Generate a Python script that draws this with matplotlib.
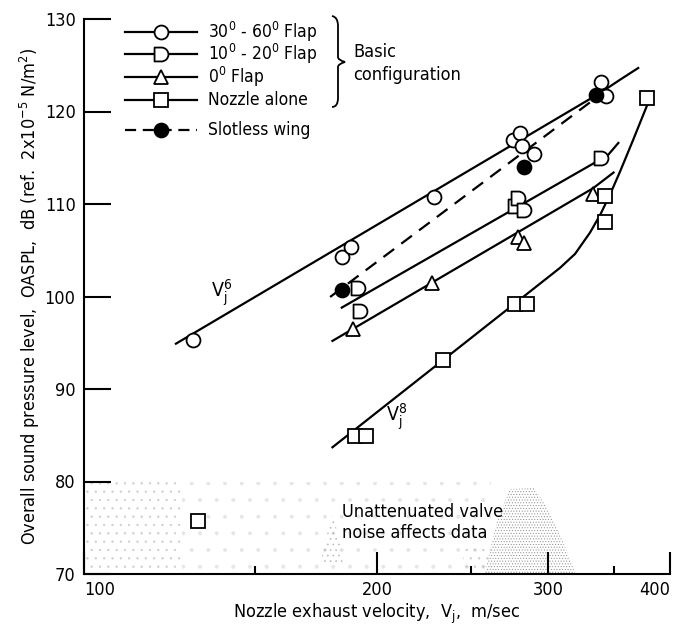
import numpy as np
import matplotlib.pyplot as plt
from matplotlib.path import Path
from matplotlib.patches import PathPatch
from matplotlib.lines import Line2D
from matplotlib.ticker import FixedLocator, FixedFormatter, NullFormatter

plt.rcParams['font.family'] = ['DejaVu Sans']
plt.rcParams['font.stretch'] = 'condensed'
plt.rcParams['mathtext.fontset'] = 'custom'
plt.rcParams['mathtext.rm'] = 'DejaVu Sans:stretch=condensed'
plt.rcParams['mathtext.it'] = 'DejaVu Sans:stretch=condensed'
plt.rcParams['font.size'] = 13
plt.rcParams['hatch.linewidth'] = 0.4

# measured points: nozzle exhaust velocity (m/sec) and OASPL (dB)
flap_30_60_v = [129.4, 184, 188, 229, 276, 280.5, 282, 290, 340, 344]
flap_30_60_db = [95.3, 104.3, 105.4, 110.8, 116.9, 117.7, 116.3, 115.4, 123.2, 121.7]

flap_10_20_v = [191, 192, 277, 279, 283, 340]
flap_10_20_db = [100.9, 98.4, 109.8, 110.6, 109.4, 115.0]

flap_0_v = [189, 228, 279, 283, 333]
flap_0_db = [96.5, 101.5, 106.4, 105.8, 111.1]

nozzle_v = [131, 190, 195, 234, 277, 285, 343, 343, 379]
nozzle_db = [75.7, 84.9, 84.9, 93.1, 99.2, 99.2, 110.9, 108.1, 121.5]

slotless_v = [184, 283, 336]
slotless_db = [100.7, 114.0, 121.8]

# faired curves through the data
fair_30_60_v = [124.3, 339, 355, 371]
fair_30_60_db = [94.9, 122.0, 123.4, 124.7]
fair_10_20_v = [184, 336.5, 345.5, 354]
fair_10_20_db = [98.8, 114.6, 115.3, 116.6]
fair_0_v = [180, 333.4, 350]
fair_0_db = [95.2, 111.7, 113.4]
fair_nozzle_v = [180, 308.4, 319.5, 331, 339, 347, 355.4, 366.5, 379]
fair_nozzle_db = [83.7, 103.1, 104.6, 106.9, 108.8, 111.0, 113.5, 116.9, 120.7]
fair_slotless_v = [179, 337]
fair_slotless_db = [99.95, 121.6]

x_ticks = [100, 200, 300, 400]
x_minor = [150, 250, 350]
y_ticks = [70, 80, 90, 100, 110, 120, 130]

# "D" shaped marker for the 10-20 deg flap
arc = Path.arc(-90, 90)
d_verts = np.vstack([[-1, -1], [0, -1], arc.vertices[1:], [-1, 1], [-1, -1]])
d_codes = [Path.MOVETO, Path.LINETO] + list(arc.codes[1:]) + [Path.LINETO, Path.CLOSEPOLY]
d_marker = Path(d_verts, d_codes)

fig = plt.figure(figsize=(6.82, 6.32), dpi=100)
ax = fig.add_axes([84 / 682, 1 - 574 / 632, 586 / 682, 555 / 632])
ax.set_xscale('log')
ax.set_xlim(100, 400)
ax.set_ylim(70, 130)

lw = 1.6
mk = dict(markersize=10, markeredgewidth=1.3, markeredgecolor='black', linestyle='none')

# stippled zone where valve noise contaminates the data
def stipple(vs, dbs, hatch, color):
    verts = list(zip(vs, dbs))
    p = PathPatch(Path(verts + [verts[0]], [Path.MOVETO] + [Path.LINETO] * (len(verts) - 1) + [Path.CLOSEPOLY]),
                  facecolor='none', edgecolor=color, hatch=hatch, linewidth=0)
    ax.add_patch(p)

stipple([100, 126, 126, 100], [70, 70, 80, 80], '..', '#cccccc')
stipple([126, 262, 262, 126], [70, 70, 80, 80], '.', '#e6e6e6')
stipple([175, 180, 185], [71.3, 76.8, 71.3], '...', '#b4b4b4')
stipple([245, 262, 262, 245], [70, 70, 73, 73], '..', '#c8c8c8')
stipple([258, 266, 274, 290, 300, 312, 320], [70, 76, 79.2, 79.3, 77, 73, 70], '......', '#8c8c8c')

ax.text(184, 75.55, 'Unattenuated valve\nnoise affects data', ha='left', va='center',
        linespacing=1.25, fontsize=13)

# faired curves
ax.plot(fair_30_60_v, fair_30_60_db, color='black', lw=lw)
ax.plot(fair_10_20_v, fair_10_20_db, color='black', lw=lw)
ax.plot(fair_0_v, fair_0_db, color='black', lw=lw)
ax.plot(fair_nozzle_v, fair_nozzle_db, color='black', lw=lw)
ax.plot(fair_slotless_v, fair_slotless_db, color='black', lw=lw, dashes=(6, 4))

# data points
ax.plot(flap_30_60_v, flap_30_60_db, marker='o', markerfacecolor='white', **mk)
ax.plot(flap_10_20_v, flap_10_20_db, marker=d_marker, markerfacecolor='white', **mk)
ax.plot(flap_0_v, flap_0_db, marker='^', markerfacecolor='white', **mk)
ax.plot(nozzle_v, nozzle_db, marker='s', markerfacecolor='white', **mk)
ax.plot(slotless_v, slotless_db, marker='o', markerfacecolor='black', **mk)

ax.text(138.6, 100.4, r'V$_j^6$', ha='center', va='center', fontsize=14)
ax.text(209.7, 87.0, r'V$_j^8$', ha='center', va='center', fontsize=14)

# axes styling
for s in ['top', 'right']:
    ax.spines[s].set_visible(False)
for s in ['left', 'bottom']:
    ax.spines[s].set_linewidth(1.5)

ax.xaxis.set_major_locator(FixedLocator(x_ticks))
ax.xaxis.set_major_formatter(FixedFormatter([str(t) for t in x_ticks]))
ax.xaxis.set_minor_locator(FixedLocator(x_minor))
ax.xaxis.set_minor_formatter(NullFormatter())
ax.set_yticks(y_ticks)
ax.tick_params(axis='y', direction='in', length=19.5, width=1.5, pad=6)
ax.tick_params(axis='x', which='major', direction='in', length=16, width=1.5, pad=5)
ax.tick_params(axis='x', which='minor', direction='in', length=6, width=1.5)
xl = ax.get_xticklabels()
xl[0].set_ha('left')
xl[-1].set_ha('right')

ax.set_xlabel(r'Nozzle exhaust velocity,  V$_j$,  m/sec')
ax.xaxis.set_label_coords(0.5, -0.05)
ax.set_ylabel(r'Overall sound pressure level,  OASPL,  dB (ref.  2x10$^{-5}$ N/m$^2$)')
ax.yaxis.set_label_coords(-0.072, 0.5)

# legend drawn in axes fraction
def ax_frac(px, py):
    return (px - 84) / 586, 1 - (py - 19) / 555

entries = [
    (r'30$^0$ - 60$^0$ Flap', 'o', 'white', '-', 32),
    (r'10$^0$ - 20$^0$ Flap', d_marker, 'white', '-', 54),
    (r'0$^0$ Flap', '^', 'white', '-', 77),
    ('Nozzle alone', 's', 'white', '-', 100),
    ('Slotless wing', 'o', 'black', '--', 130),
]
for label, m, fc, ls, py in entries:
    x0, y0 = ax_frac(125, py)
    x1, _ = ax_frac(197, py)
    xm, _ = ax_frac(161, py)
    line = Line2D([x0, x1], [y0, y0], color='black', lw=lw, transform=ax.transAxes)
    if ls == '--':
        line.set_dashes((5, 3))
    ax.add_line(line)
    ax.add_line(Line2D([xm], [y0], marker=m, markerfacecolor=fc, transform=ax.transAxes, **mk))
    xt, _ = ax_frac(208, py)
    ax.text(xt, y0, label, transform=ax.transAxes, ha='left', va='center', fontsize=12.5)

# brace grouping the basic configuration entries
bx = [ax_frac(p[0], p[1]) for p in [(332, 16), (338, 17), (338, 26), (338, 57), (338, 60), (345, 62),
                                    (338, 64), (338, 67), (338, 98), (338, 107), (332, 107)]]
brace = Path(bx, [Path.MOVETO, Path.CURVE3, Path.CURVE3, Path.LINETO, Path.CURVE3, Path.CURVE3,
                  Path.CURVE3, Path.CURVE3, Path.LINETO, Path.CURVE3, Path.CURVE3])
ax.add_patch(PathPatch(brace, transform=ax.transAxes, facecolor='none', edgecolor='black', lw=1.3,
                       clip_on=False))
xb, yb = ax_frac(353, 52)
ax.text(xb, yb, 'Basic', transform=ax.transAxes, ha='left', va='center', fontsize=13)
xb, yb = ax_frac(353, 75)
ax.text(xb, yb, 'configuration', transform=ax.transAxes, ha='left', va='center', fontsize=13)

fig.savefig('out.png', dpi=100)
